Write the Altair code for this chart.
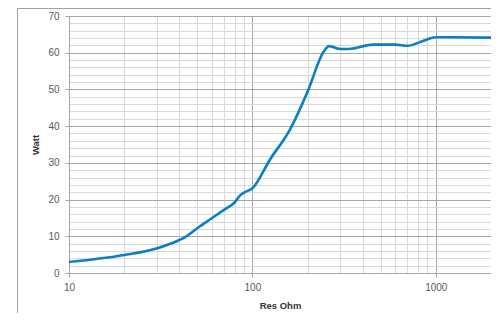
import altair as alt
import pandas as pd

res_ohm = [10, 20, 30, 40, 43, 50, 60, 70, 80, 86, 90, 100, 125, 160, 200, 245, 262, 300, 335, 455, 600, 705, 830, 1000, 1200, 2000]
watt = [3.0, 4.9, 6.7, 9.0, 9.8, 12.2, 14.9, 17.2, 19.2, 21.2, 21.9, 23.1, 31.0, 39.0, 49.4, 60.3, 61.8, 61.0, 61.0, 62.2, 62.2, 61.9, 63.0, 64.2, 64.2, 64.1]

x_ticks = [10, 20, 30, 40, 50, 60, 70, 80, 90, 100, 200, 300, 400, 500, 600, 700, 800, 900, 1000, 2000]
y_ticks = list(range(0, 71, 2))

df = pd.DataFrame({"Res Ohm": res_ohm, "Watt": watt})

font = "Liberation Sans"
major_grid = "#a6a6a6"
minor_grid = "#d9d9d9"
text_col = "#595959"

x_major = "datum.value == 10 || datum.value == 100 || datum.value == 1000"
y_major = "datum.value % 10 == 0"

line = alt.Chart(df).mark_line(color="#0b7ec4", strokeWidth=2.6, interpolate="monotone").encode(
    x=alt.X("Res Ohm:Q",
            scale=alt.Scale(type="log", domain=[10, 2000], nice=False),
            axis=alt.Axis(values=x_ticks, format="d",
                          labelExpr="(" + x_major + ") ? datum.label : ''",
                          gridColor={"condition": {"test": x_major, "value": major_grid}, "value": minor_grid},
                          tickOpacity={"condition": {"test": x_major, "value": 1}, "value": 0},
                          tickColor=major_grid, tickSize=4, labelPadding=5,
                          domainColor=major_grid, labelColor=text_col, labelFont=font, labelFontSize=10,
                          title="Res Ohm", titleFont=font, titleFontSize=9.5, titleFontWeight="bold",
                          titleColor="#333333", titlePadding=8, labelFlush=False)),
    y=alt.Y("Watt:Q",
            scale=alt.Scale(domain=[0, 70], nice=False),
            axis=alt.Axis(values=y_ticks,
                          labelExpr="(" + y_major + ") ? datum.label : ''",
                          gridColor={"condition": {"test": y_major, "value": major_grid}, "value": minor_grid},
                          tickOpacity={"condition": {"test": y_major, "value": 1}, "value": 0},
                          tickColor=major_grid, tickSize=4, labelPadding=6,
                          domainColor=major_grid, labelColor=text_col, labelFont=font, labelFontSize=10,
                          title="Watt", titleFont=font, titleFontSize=9.5, titleFontWeight="bold",
                          titleColor="#333333", titlePadding=7, labelFlush=False)),
)

border = alt.Chart(alt.Data(values=[{}])).mark_rect(fill=None, stroke="#a0a0a0", strokeWidth=1).encode(
    x=alt.value(-51.5), x2=alt.value(470), y=alt.value(-7.5), y2=alt.value(320)
)

chart = alt.layer(border, line).properties(
    width=422, height=257,
    autosize=alt.AutoSizeParams(type="none"),
    padding={"left": 61, "top": 8, "right": 0, "bottom": 40},
    background="white",
).configure_view(stroke=None)

chart.save("out.html", embed_options={"renderer": "svg", "actions": False})
